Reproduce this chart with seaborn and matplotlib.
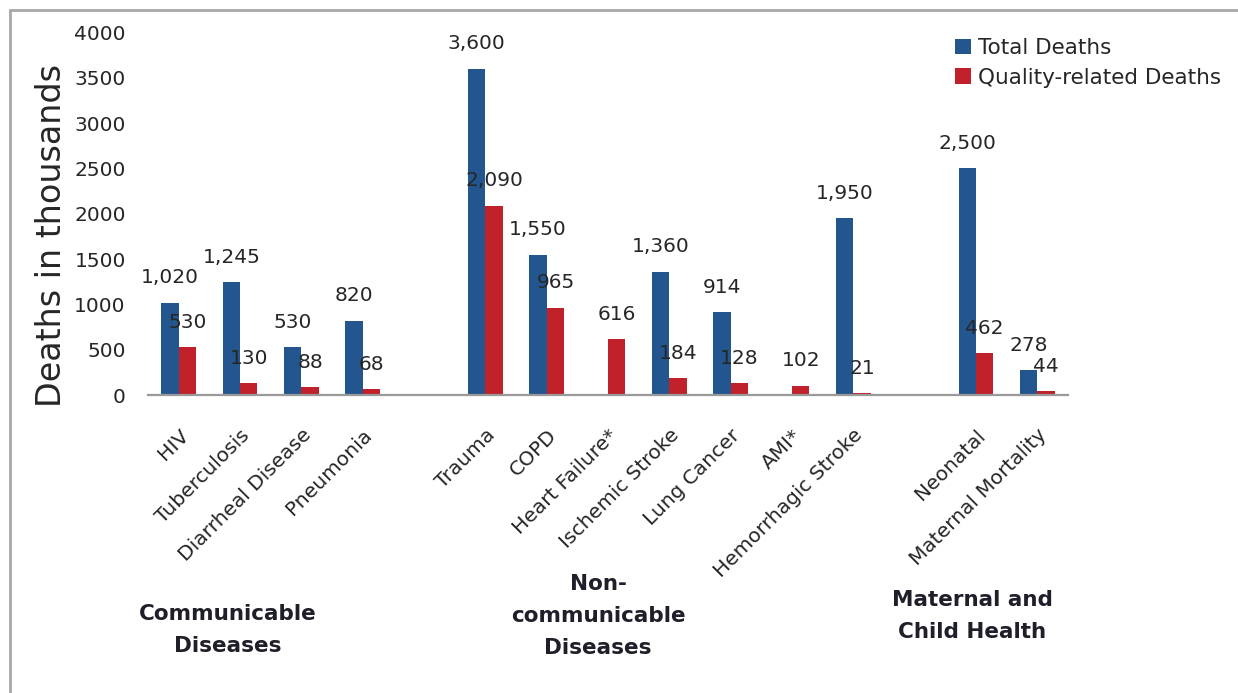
import numpy as np
import pandas as pd
import seaborn as sns
import matplotlib.pyplot as plt
from matplotlib.lines import Line2D

categories = ['HIV', 'Tuberculosis', 'Diarrheal Disease', 'Pneumonia', ' ',
              'Trauma', 'COPD', 'Heart Failure*', 'Ischemic Stroke', 'Lung Cancer',
              'AMI*', 'Hemorrhagic Stroke', '  ', 'Neonatal', 'Maternal Mortality']
total_deaths = [1020, 1245, 530, 820, np.nan, 3600, 1550, np.nan, 1360, 914,
                np.nan, 1950, np.nan, 2500, 278]
quality_deaths = [530, 130, 88, 68, np.nan, 2090, 965, 616, 184, 128,
                  102, 21, np.nan, 462, 44]
series = ['Total Deaths', 'Quality-related Deaths']
groups = ['Communicable\nDiseases', 'Non-\ncommunicable\nDiseases', 'Maternal and\nChild Health']
yticks = [0, 500, 1000, 1500, 2000, 2500, 3000, 3500, 4000]

W, H = 1238, 693
def px(x, y):
    return x / W, 1 - y / H

df = pd.DataFrame({
    'category': categories * 2,
    'series': [series[0]] * len(categories) + [series[1]] * len(categories),
    'deaths': total_deaths + quality_deaths,
})

sns.set_style('white')
plt.rcParams['font.family'] = ['DejaVu Sans']
text_col = '#262626'

fig = plt.figure(figsize=(W / 100, H / 100), dpi=100)
ax = fig.add_axes([148 / W, 1 - 395 / H, 920 / W, 362.5 / H])

sns.barplot(df, x='category', y='deaths', hue='series', order=categories,
            hue_order=series, palette=['#23568f', '#c0212a'], width=0.57,
            saturation=1, errorbar=None, linewidth=0, ax=ax)

for c in ax.containers:
    labels = ['' if not np.isfinite(v) else f'{v:,.0f}' for v in c.datavalues]
    ax.bar_label(c, labels=labels, padding=11, fontsize=14.5, color=text_col)

ax.set_ylim(0, 4000)
ax.set_yticks(yticks)
ax.set_xlim(-0.5, len(categories) - 0.5)
ax.set_xlabel('')
ax.set_ylabel('Deaths in thousands', fontsize=24, color=text_col)
ax.yaxis.set_label_coords(-0.087, 0.44)
ax.tick_params(axis='y', length=0, pad=16, labelsize=14.5, labelcolor=text_col)
ax.tick_params(axis='x', length=0, pad=22, labelsize=14.5, labelcolor=text_col)
plt.setp(ax.get_xticklabels(), rotation=45, ha='right', rotation_mode='anchor')
for s in ['top', 'right', 'left']:
    ax.spines[s].set_visible(False)
ax.spines['bottom'].set_color('#9a9a9a')
ax.spines['bottom'].set_linewidth(1.6)

handles, labs = ax.get_legend_handles_labels()
ax.legend(handles, labs, loc='upper left', bbox_to_anchor=px(955, 38),
          bbox_transform=fig.transFigure, frameon=False, fontsize=15.5,
          handlelength=0.75, handleheight=0.75, handletextpad=0.3,
          labelspacing=0.45, borderpad=0, borderaxespad=0, labelcolor=text_col)

for g, (x, y) in zip(groups, [(228, 630), (598, 616), (972, 616)]):
    fig.text(*px(x, y), g, ha='center', va='center', fontsize=15.5,
             fontweight='bold', color='#1f1f2a', linespacing=1.75)

# outer frame like the original screenshot
fig.add_artist(Line2D([9.5 / W, 9.5 / W], [0, 1 - 10 / H], transform=fig.transFigure,
                      color='#a8a8a8', lw=2))
fig.add_artist(Line2D([9.5 / W, 1], [1 - 10 / H, 1 - 10 / H], transform=fig.transFigure,
                      color='#a8a8a8', lw=2))

fig.savefig('out.png', dpi=100)
